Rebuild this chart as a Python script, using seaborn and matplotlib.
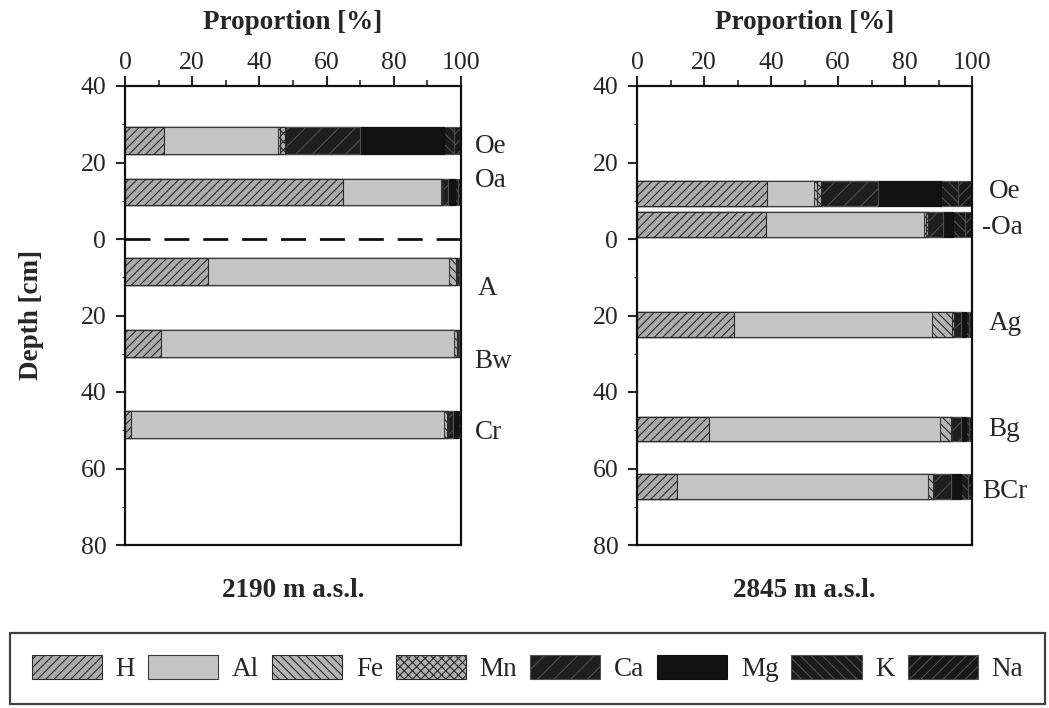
import numpy as np
import pandas as pd
import matplotlib
matplotlib.use("Agg")
import matplotlib.pyplot as plt
from matplotlib.patches import Patch
from matplotlib.ticker import MultipleLocator
import seaborn as sns

# ---------------- data ----------------
elements = ["H", "Al", "Fe", "Mn", "Ca", "Mg", "K", "Na"]

left_title = "2190 m a.s.l."
left_horizons = ["Oe", "Oa", "A", "Bw", "Cr"]
left_depth = [-25.7, -12.3, 8.5, 27.4, 48.5]          # bar centre (cm, negative = above mineral soil)
left_label_depth = [-24.3, -15.4, 13.0, 32.0, 50.7]
left_H = [11.5, 64.8, 24.8, 10.8, 1.8]
left_Al = [34.0, 29.2, 71.7, 87.0, 93.2]
left_Fe = [0.5, 0.3, 2.0, 1.0, 0.8]
left_Mn = [1.7, 0.3, 0.3, 0.2, 0.2]
left_Ca = [22.2, 1.5, 0.5, 0.4, 1.5]
left_Mg = [25.0, 2.0, 0.3, 0.3, 1.5]
left_K = [3.0, 1.0, 0.2, 0.2, 0.6]
left_Na = [2.1, 0.9, 0.2, 0.1, 0.4]

right_title = "2845 m a.s.l."
right_horizons = ["Oe", "-Oa", "Ag", "Bg", "BCr"]
right_depth = [-11.9, -3.75, 22.35, 49.7, 64.7]
right_label_depth = [-12.5, -3.0, 22.0, 49.7, 66.0]
right_H = [38.9, 38.4, 29.0, 21.6, 12.0]
right_Al = [13.9, 47.4, 59.1, 68.9, 74.8]
right_Fe = [1.0, 0.6, 6.0, 3.3, 1.5]
right_Mn = [1.0, 0.4, 0.5, 0.3, 0.5]
right_Ca = [17.1, 4.5, 2.0, 2.5, 5.0]
right_Mg = [18.9, 3.0, 1.5, 1.5, 3.0]
right_K = [5.0, 3.5, 1.0, 1.0, 2.0]
right_Na = [4.2, 2.2, 0.9, 0.9, 1.2]

depth_ticks = [-40, -20, 0, 20, 40, 60, 80]
depth_ticklabels = ["40", "20", "0", "20", "40", "60", "80"]
prop_ticks = [0, 20, 40, 60, 80, 100]

# ---------------- style ----------------
face = {"H": "#ababab", "Al": "#c4c4c4", "Fe": "#b4b4b4", "Mn": "#b0b0b0",
        "Ca": "#1e1e1e", "Mg": "#121212", "K": "#1b1b1b", "Na": "#181818"}
edge = {"H": "#2a2a2a", "Al": "#3a3a3a", "Fe": "#2a2a2a", "Mn": "#2a2a2a",
        "Ca": "#505050", "Mg": "#101010", "K": "#505050", "Na": "#505050"}
hatch = {"H": "////", "Al": "", "Fe": "\\\\\\\\", "Mn": "xxxx",
         "Ca": "//", "Mg": "", "K": "\\\\\\", "Na": "///"}

sns.set_style("ticks")
plt.rcParams["font.family"] = "serif"
plt.rcParams["font.serif"] = ["Liberation Serif"]
plt.rcParams["hatch.linewidth"] = 0.8
plt.rcParams["axes.linewidth"] = 1.6

fig = plt.figure(figsize=(10.49, 7.08), dpi=100)
ax_l = fig.add_axes([125 / 1049, 1 - 545 / 708, 336 / 1049, 459 / 708])
ax_r = fig.add_axes([637 / 1049, 1 - 545 / 708, 335 / 1049, 459 / 708])

TICK_FS = 18.5
LAB_FS = 19.5


def draw_panel(ax, horizons, depth, label_depth, vals, title, bar_h, label_x):
    df = pd.DataFrame({"depth": depth})
    cum = np.zeros(len(depth))
    for el in elements:
        cum = cum + np.array(vals[el])
        df[el] = cum.copy()
    native = np.min(np.diff(np.sort(depth)))
    # draw from largest cumulative to smallest so each segment shows
    for el in reversed(elements):
        sns.barplot(data=df, x=el, y="depth", orient="h", native_scale=True,
                    width=bar_h / native, color=face[el], saturation=1,
                    edgecolor=edge[el], linewidth=0.8, hatch=hatch[el],
                    errorbar=None, ax=ax)
    ax.set_xlim(0, 100)
    ax.set_ylim(80, -40)
    ax.xaxis.tick_top()
    ax.xaxis.set_label_position("top")
    ax.set_xticks(prop_ticks)
    ax.xaxis.set_minor_locator(MultipleLocator(10))
    ax.set_yticks(depth_ticks)
    ax.set_yticklabels(depth_ticklabels)
    ax.yaxis.set_minor_locator(MultipleLocator(10))
    ax.tick_params(axis="x", which="major", direction="out", length=7, width=1.5,
                   pad=1.5, labelsize=TICK_FS, top=True, bottom=False)
    ax.tick_params(axis="x", which="minor", direction="out", length=4.5, width=1.2,
                   top=True, bottom=False)
    ax.tick_params(axis="y", which="major", direction="out", length=6.5, width=1.5,
                   pad=7, labelsize=TICK_FS, left=True, right=False)
    ax.tick_params(axis="y", which="minor", direction="out", length=2.5, width=0.8,
                   left=True, right=False)
    for s in ax.spines.values():
        s.set_visible(True)
        s.set_linewidth(1.6)
        s.set_color("#111111")
    ax.set_xlabel("Proportion [%]", fontsize=LAB_FS, fontweight="bold", labelpad=17)
    ax.set_ylabel("")
    for h, yd, xd in zip(horizons, label_depth, label_x):
        ax.text(xd, yd, h, fontsize=LAB_FS, va="center", ha="left", clip_on=False)
    ax.text(0.5, -0.1, title, transform=ax.transAxes, fontsize=LAB_FS,
            fontweight="bold", ha="center", va="center")


left_vals = {"H": left_H, "Al": left_Al, "Fe": left_Fe, "Mn": left_Mn,
             "Ca": left_Ca, "Mg": left_Mg, "K": left_K, "Na": left_Na}
right_vals = {"H": right_H, "Al": right_Al, "Fe": right_Fe, "Mn": right_Mn,
              "Ca": right_Ca, "Mg": right_Mg, "K": right_K, "Na": right_Na}

draw_panel(ax_l, left_horizons, left_depth, left_label_depth, left_vals,
           left_title, 7.0, [104, 104, 105, 104, 104])
draw_panel(ax_r, right_horizons, right_depth, right_label_depth, right_vals,
           right_title, 6.4, [105, 103, 105, 105, 103])

# boundary between organic and mineral horizons (left profile)
ax_l.axhline(0, color="#111111", lw=2, dashes=(9, 5))

fig.text(32 / 1049, 1 - 315 / 708, "Depth [cm]", rotation=90, fontsize=LAB_FS,
         fontweight="bold", ha="center", va="center")

handles = [Patch(facecolor=face[e], edgecolor=edge[e], hatch=hatch[e], linewidth=0.8)
           for e in elements]
leg = fig.legend(handles, elements, loc="lower left",
                 bbox_to_anchor=(10 / 1049, 4 / 708, 1035 / 1049, 70 / 708),
                 mode="expand", ncol=8, fontsize=LAB_FS, frameon=True, fancybox=False,
                 edgecolor="#111111", handlelength=2.6, handleheight=1.0,
                 handletextpad=0.5, columnspacing=1.0, borderpad=0.8,
                 borderaxespad=0)
leg.get_frame().set_linewidth(1.6)

fig.savefig("out.png", dpi=100)
